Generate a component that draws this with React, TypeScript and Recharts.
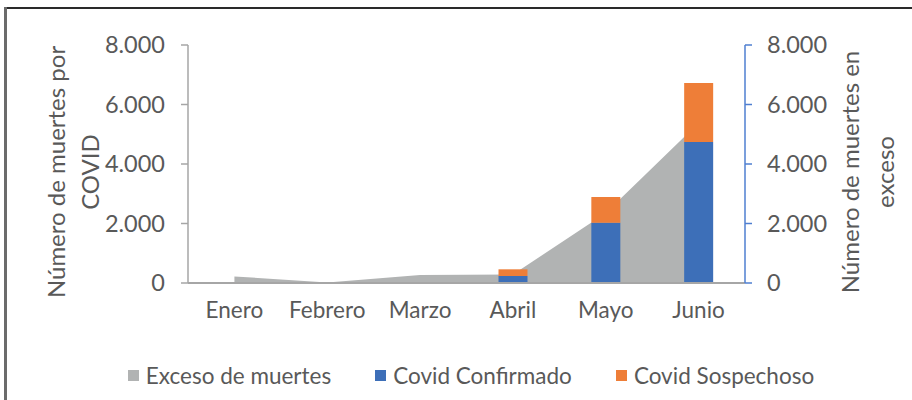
import React from "react";
import {
  ComposedChart,
  Area,
  Bar,
  XAxis,
  YAxis,
  Legend,
} from "recharts";

const months = ["Enero", "Febrero", "Marzo", "Abril", "Mayo", "Junio"];
const exceso = [220, 20, 270, 285, 2350, 5380];
const confirmado = [0, 0, 5, 235, 2025, 4740];
const sospechoso = [0, 0, 25, 225, 865, 1980];
const yTicks = [0, 2000, 4000, 6000, 8000];
const legendOrder = ["Exceso de muertes", "Covid Confirmado", "Covid Sospechoso"];

const data = months.map((m, i) => ({
  month: m,
  exceso: exceso[i],
  confirmado: confirmado[i],
  sospechoso: sospechoso[i],
}));

const FONT = "Lato, 'Open Sans', sans-serif";
const TEXT = "#595959";
const GREY = "#B1B3B3";
const BLUE = "#3D6FB8";
const ORANGE = "#EE7E38";

const fmt = (v: number) => String(v).replace(/\B(?=(\d{3})+(?!\d))/g, ".");

function AxisTitle({ viewBox, lines, x1, x2 }: any) {
  const cy = viewBox.y + viewBox.height / 2 + 8;
  const xs = [x1, x2];
  return (
    <g>
      {lines.map((t: string, i: number) => (
        <text
          key={t}
          x={xs[i]}
          y={cy}
          transform={`rotate(-90, ${xs[i]}, ${cy})`}
          textAnchor="middle"
          dominantBaseline="central"
          fontFamily={FONT}
          fontSize={24}
          fill={TEXT}
        >
          {t}
        </text>
      ))}
    </g>
  );
}

function LegendBox({ payload }: any) {
  const items = [...(payload || [])].sort(
    (a: any, b: any) => legendOrder.indexOf(a.value) - legendOrder.indexOf(b.value)
  );
  return (
    <div
      style={{
        height: 67,
        paddingTop: 18,
        boxSizing: "border-box",
        display: "flex",
        justifyContent: "center",
        gap: 44,
        paddingLeft: 30,
        fontFamily: FONT,
        fontSize: 22.5,
        color: TEXT,
        lineHeight: "24px",
      }}
    >
      {items.map((p: any) => (
        <div key={p.value} style={{ display: "flex", alignItems: "center" }}>
          <span
            style={{
              width: 11,
              height: 11,
              background: p.color,
              marginRight: 7,
              display: "inline-block",
            }}
          />
          {p.value}
        </div>
      ))}
    </div>
  );
}

export default function App() {
  return (
    <div
      style={{
        position: "absolute",
        left: 0,
        top: 0,
        width: 912,
        height: 400,
        background: "#fff",
        overflow: "hidden",
      }}
    >
      <ComposedChart
        width={912}
        height={400}
        data={data}
        margin={{ top: 45, right: 0, bottom: 0, left: 0 }}
        barSize={29}
      >
        <XAxis
          dataKey="month"
          height={50}
          tickLine={false}
          axisLine={{ stroke: "#A6A6A6", strokeWidth: 2 }}
          tick={{ fontSize: 22.5, fill: TEXT, fontFamily: FONT }}
          tickMargin={13}
        />
        <YAxis
          yAxisId="left"
          orientation="left"
          width={188}
          domain={[0, 8000]}
          ticks={yTicks}
          tickFormatter={fmt}
          axisLine={{ stroke: "#A6A6A6", strokeWidth: 1.5 }}
          tickLine={{ stroke: "#A6A6A6", strokeWidth: 1.5 }}
          tickSize={7}
          tickMargin={16}
          tick={{ fontSize: 23.5, fill: TEXT, fontFamily: FONT }}
          label={(p: any) => (
            <AxisTitle viewBox={p.viewBox} lines={["Número de muertes por", "COVID"]} x1={55} x2={89} />
          )}
        />
        <YAxis
          yAxisId="right"
          orientation="right"
          width={167}
          domain={[0, 8000]}
          ticks={yTicks}
          tickFormatter={fmt}
          axisLine={{ stroke: "#4F7FD0", strokeWidth: 1.5 }}
          tickLine={{ stroke: "#4F7FD0", strokeWidth: 1.5 }}
          tickSize={7}
          tickMargin={15}
          tick={{ fontSize: 23.5, fill: TEXT, fontFamily: FONT }}
          label={(p: any) => (
            <AxisTitle viewBox={p.viewBox} lines={["Número de muertes en", "exceso"]} x1={849} x2={884} />
          )}
        />
        <Area
          yAxisId="right"
          type="linear"
          dataKey="exceso"
          name="Exceso de muertes"
          stroke="none"
          fill={GREY}
          fillOpacity={1}
          isAnimationActive={false}
          activeDot={false}
        />
        <Bar
          yAxisId="left"
          dataKey="confirmado"
          name="Covid Confirmado"
          stackId="covid"
          fill={BLUE}
          isAnimationActive={false}
        />
        <Bar
          yAxisId="left"
          dataKey="sospechoso"
          name="Covid Sospechoso"
          stackId="covid"
          fill={ORANGE}
          isAnimationActive={false}
        />
        <Legend verticalAlign="bottom" content={<LegendBox />} />
      </ComposedChart>
      <div style={{ position: "absolute", zIndex: 5, left: 4, top: 7, width: 908, height: 2, background: "#2a2a2a" }} />
      <div style={{ position: "absolute", zIndex: 5, left: 4, top: 7, width: 3, height: 393, background: "#6b6b6b" }} />
    </div>
  );
}
